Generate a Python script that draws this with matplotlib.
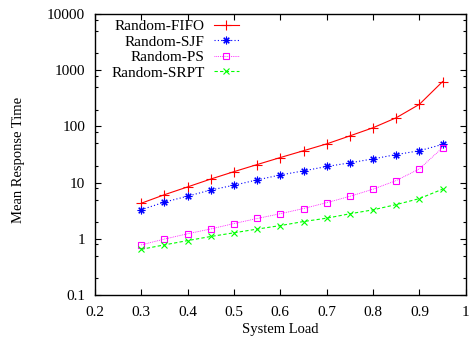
import numpy as np
import matplotlib.pyplot as plt
from matplotlib.ticker import FixedLocator, FuncFormatter, LogLocator

load = [0.3, 0.35, 0.4, 0.45, 0.5, 0.55, 0.6, 0.65, 0.7, 0.75, 0.8, 0.85, 0.9, 0.95]

fifo = [4.3, 6.1, 8.4, 11.6, 15.7, 21.0, 28.0, 37.0, 49.0, 68.0, 95.0, 143.0, 248.0, 630.0]
sjf = [3.3, 4.5, 5.75, 7.4, 9.0, 11.2, 13.7, 16.2, 19.4, 22.5, 26.5, 31.6, 37.0, 48.0]
ps = [0.78, 0.99, 1.23, 1.5, 1.87, 2.3, 2.8, 3.46, 4.4, 5.7, 7.65, 10.9, 17.6, 42.0]
srpt = [0.65, 0.78, 0.93, 1.1, 1.28, 1.49, 1.72, 2.03, 2.33, 2.79, 3.28, 4.07, 5.2, 7.66]

names = ["Random-FIFO", "Random-SJF", "Random-PS", "Random-SRPT"]

plt.rcParams['font.family'] = ['Liberation Serif', 'DejaVu Serif']
plt.rcParams['font.size'] = 11

fig = plt.figure(figsize=(4.7, 3.45), dpi=100)
ax = fig.add_axes([0.202, 0.145, 0.789, 0.814])

lw = 0.8
ax.plot(load, fifo, color='#ff0000', lw=lw, ls='-', marker='+', ms=6.5, mew=lw, label=names[0])
ax.plot(load, sjf, color='#0000ff', lw=lw, ls=(0, (1, 2)), marker=(8, 2, 0), ms=5.5, mew=lw,
        label=names[1])
ax.plot(load, ps, color='#ff00ff', lw=0.6, ls=(0, (1, 1.2)), marker='s', ms=5, mew=lw,
        mfc='none', label=names[2])
ax.plot(load, srpt, color='#00ff00', lw=lw, ls=(0, (3, 2)), marker='x', ms=5, mew=lw, label=names[3])

ax.set_yscale('log')
ax.set_xlim(0.2, 1.0)
ax.set_ylim(0.1, 10000)
ax.set_xticks(np.arange(0.2, 1.01, 0.1))
ax.xaxis.set_major_formatter(FuncFormatter(lambda v, p: '%g' % round(v, 2)))
ax.yaxis.set_major_locator(FixedLocator([0.1, 1, 10, 100, 1000, 10000]))
ax.yaxis.set_minor_locator(LogLocator(base=10, subs=[2, 5, 8]))
ax.yaxis.set_major_formatter(FuncFormatter(lambda v, p: '%g' % v))
ax.yaxis.set_minor_formatter(FuncFormatter(lambda v, p: ''))

ax.tick_params(which='both', direction='in', top=True, right=True, width=0.8, labelsize=11)
ax.tick_params(which='major', length=4)
ax.tick_params(axis='x', which='major', pad=8)
ax.tick_params(axis='y', which='major', pad=7)
ax.tick_params(which='minor', length=2)
for s in ax.spines.values():
    s.set_linewidth(1.0)

ax.set_xlabel("System Load", fontsize=10.5)
ax.set_ylabel("Mean Response Time", fontsize=10.5)
ax.xaxis.set_label_coords(0.5, -0.10)
ax.yaxis.set_label_coords(-0.188, 0.48)

ax.legend(loc='upper left', bbox_to_anchor=(0.02, 1.014), frameon=False, markerfirst=False,
          handlelength=1.6, handletextpad=0.6, labelspacing=0.12, fontsize=11,
          borderaxespad=0.2, alignment='right')

fig.savefig("out.png", dpi=100)
